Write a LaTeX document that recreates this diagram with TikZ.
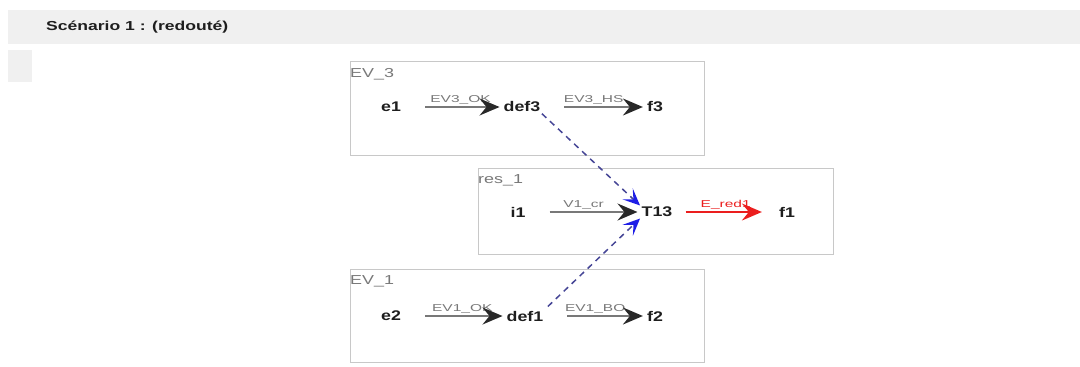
\documentclass[tikz,border=0pt]{standalone}
\usepackage{fontspec}
\setmainfont{Liberation Sans}
\newfontfamily\titlefont{Liberation Sans}[FakeStretch=1.35]
\newfontfamily\nfont{Liberation Sans}[FakeStretch=1.27]
\newfontfamily\lfont{Liberation Sans}[FakeStretch=1.55]
\newfontfamily\bxfont{Liberation Sans}[FakeStretch=1.38]
\usetikzlibrary{arrows.meta}
\definecolor{band}{RGB}{240,240,240}
\definecolor{boxline}{RGB}{200,200,200}
\definecolor{boxlbl}{RGB}{120,120,120}
\definecolor{arrline}{RGB}{120,120,120}
\definecolor{arrhead}{RGB}{40,40,40}
\definecolor{redarr}{RGB}{235,30,30}
\definecolor{dashline}{RGB}{70,70,150}
\definecolor{bluehead}{RGB}{30,30,230}
\definecolor{txt}{RGB}{30,30,30}
\tikzset{
  grp/.style={draw=boxline, line width=1pt},
  grplbl/.style={anchor=west, inner sep=0pt, text=boxlbl, font=\bxfont\fontsize{13}{15}\selectfont},
  st/.style={inner sep=0pt, text=txt, font=\nfont\bfseries\fontsize{14}{16}\selectfont},
  lbl/.style={inner sep=0pt, behind path, text=arrline, font=\lfont\fontsize{10}{12}\selectfont},
  tr/.style={draw=arrline, line width=2pt, shorten <=24pt, shorten >=4pt,
    -{Stealth[length=20pt,width=17pt,inset=7pt,color=arrhead]}},
  redtr/.style={draw=redarr, line width=2pt, shorten <=13pt, shorten >=17pt,
    -{Stealth[length=20pt,width=17pt,inset=7pt,color=redarr]}},
  dep/.style={draw=dashline, line width=1.5pt, dash pattern=on 6pt off 5pt,
    -{Stealth[length=17pt,width=15pt,inset=8pt,color=bluehead]}}
}
\begin{document}
\begin{tikzpicture}[x=1pt,y=-1pt]
\useasboundingbox (0,0) rectangle (1080,367);
% header
\fill[band] (8,10) rectangle (1080,44);
\node[anchor=west, inner sep=0pt, text=txt, font=\titlefont\bfseries\fontsize{13}{15}\selectfont] (title) at (46,27) {Scénario 1 : (redouté)};
\fill[band] (8,50) rectangle (32,82);
% groups
\draw[grp] (350,61) rectangle (704,155);
\node[grplbl] (g3) at (350,74) {EV\_3};
\draw[grp] (478,168) rectangle (833,254);
\node[grplbl] (gr) at (478,180) {res\_1};
\draw[grp] (350,269) rectangle (704,362);
\node[grplbl] (g1) at (350,281) {EV\_1};
% states
\node[st] (e1) at (391,107) {e1};
\node[st] (def3) at (522,107) {def3};
\node[st] (f3) at (655,107) {f3};
\node[st] (i1) at (518,212) {i1};
\node[st] (T13) at (657,212) {T13};
\node[st] (f1) at (787,212) {f1};
\node[st] (e2) at (391,316) {e2};
\node[st] (def1) at (525,316) {def1};
\node[st] (f2) at (655,316) {f2};
% transitions
\draw[tr] (e1.east) -- (def3.west) node[lbl, pos=0.58, yshift=7pt] {EV3\_OK};
\draw[tr] (def3.east) -- (f3.west) node[lbl, midway, yshift=7pt] {EV3\_HS};
\draw[tr] (i1.east) -- (T13.west) node[lbl, midway, yshift=7pt] {V1\_cr};
\draw[redtr] (T13.east) -- (f1.west) node[lbl, text=redarr, midway, yshift=7pt] {E\_red1};
\draw[tr] (e2.east) -- (def1.west) node[lbl, pos=0.58, yshift=7pt] {EV1\_OK};
\draw[tr] (def1.east) -- (f2.west) node[lbl, midway, yshift=7pt] {EV1\_BO};
% dependencies
\draw[dep, shorten <=2pt, shorten >=2pt] (def3.south east) -- (T13.north west);
\draw[dep, shorten <=6pt, shorten >=2pt] (def1.north east) -- (T13.south west);
\end{tikzpicture}
\end{document}
